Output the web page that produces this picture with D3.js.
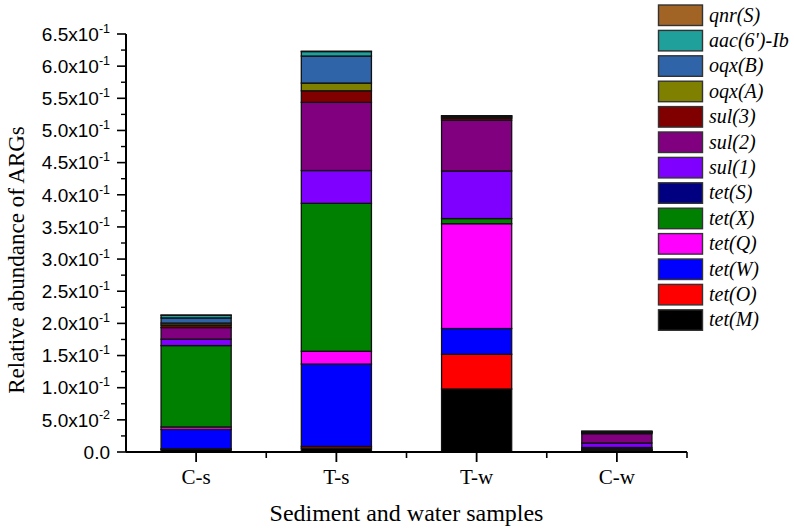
<!DOCTYPE html>
<html><head><meta charset="utf-8">
<script src="https://cdn.jsdelivr.net/npm/d3@7"></script>
<style>
html,body{margin:0;padding:0;background:#fff;}
svg{display:block;}
</style></head>
<body>
<svg id="chart" width="794" height="530"></svg>
<script>
const samples = ["C-s", "T-s", "T-w", "C-w"];
const genes = ["tet(M)", "tet(O)", "tet(W)", "tet(Q)", "tet(X)", "tet(S)", "sul(1)", "sul(2)", "sul(3)", "oqx(A)", "oqx(B)", "aac(6')-Ib", "qnr(S)"];
const colors = ["#000000", "#FF0000", "#0000FF", "#FF00FF", "#008000", "#000080", "#8000FF", "#800080", "#800000", "#808000", "#2F65A8", "#20A09A", "#A26424"];
// values per gene, in sample order C-s, T-s, T-w, C-w
const tetM = [0.004, 0.006, 0.098, 0.002];
const tetO = [0.001, 0.0027, 0.054, 0.0005];
const tetW = [0.030, 0.128, 0.040, 0.001];
const tetQ = [0.004, 0.020, 0.163, 0.0005];
const tetX = [0.1265, 0.230, 0.008, 0.001];
const tetS = [0.0, 0.0, 0.0, 0.002];
const sul1 = [0.010, 0.051, 0.074, 0.007];
const sul2 = [0.018, 0.106, 0.079, 0.0145];
const sul3 = [0.004, 0.018, 0.003, 0.0015];
const oqxA = [0.003, 0.012, 0.001, 0.0005];
const oqxB = [0.008, 0.042, 0.002, 0.001];
const aac = [0.004, 0.007, 0.0005, 0.0005];
const qnrS = [0.0005, 0.0005, 0.0005, 0.0005];
const seriesValues = [tetM, tetO, tetW, tetQ, tetX, tetS, sul1, sul2, sul3, oqxA, oqxB, aac, qnrS];

const yTicks = [0, 0.05, 0.1, 0.15, 0.2, 0.25, 0.3, 0.35, 0.4, 0.45, 0.5, 0.55, 0.6, 0.65];
const yTickMantissa = ["0.0", "5.0x10", "1.0x10", "1.5x10", "2.0x10", "2.5x10", "3.0x10", "3.5x10", "4.0x10", "4.5x10", "5.0x10", "5.5x10", "6.0x10", "6.5x10"];
const yTickExponent = ["", "-2", "-1", "-1", "-1", "-1", "-1", "-1", "-1", "-1", "-1", "-1", "-1", "-1"];
const yMinorTicks = [0.025, 0.075, 0.125, 0.175, 0.225, 0.275, 0.325, 0.375, 0.425, 0.475, 0.525, 0.575, 0.625];

const svg = d3.select("#chart");
const pLeft = 126, pRight = 687, pTop = 34, pBottom = 452;

const x = d3.scaleBand().domain(samples).range([pLeft, pRight]).paddingInner(0.5).paddingOuter(0.25);
const y = d3.scaleLinear().domain([0, 0.65]).range([pBottom, pTop]);

// stack
const table = samples.map((s, i) => {
  const o = {sample: s};
  genes.forEach((g, j) => o[g] = seriesValues[j][i]);
  return o;
});
const stack = d3.stack().keys(genes)(table);

const gBars = svg.append("g");
stack.forEach((layer, j) => {
  gBars.selectAll(null).data(layer).enter().append("rect")
    .attr("x", d => x(d.data.sample))
    .attr("width", x.bandwidth())
    .attr("y", d => y(d[1]))
    .attr("height", d => Math.max(0, y(d[0]) - y(d[1])))
    .attr("fill", colors[j])
    .attr("stroke", "#111")
    .attr("stroke-width", 1.3);
});

// y axis
const gy = svg.append("g");
gy.append("line").attr("x1", pLeft).attr("x2", pLeft).attr("y1", y(0.65)).attr("y2", pBottom)
  .attr("stroke", "#000").attr("stroke-width", 2);
gy.selectAll(".maj").data(yTicks).enter().append("line")
  .attr("x1", pLeft - 9).attr("x2", pLeft).attr("y1", d => y(d)).attr("y2", d => y(d))
  .attr("stroke", "#000").attr("stroke-width", 1.6);
gy.selectAll(".min").data(yMinorTicks).enter().append("line")
  .attr("x1", pLeft - 5).attr("x2", pLeft).attr("y1", d => y(d)).attr("y2", d => y(d))
  .attr("stroke", "#000").attr("stroke-width", 1.4);
const lbl = gy.selectAll(".lbl").data(yTicks).enter().append("text")
  .attr("x", 110).attr("y", d => y(d) + 6.8)
  .attr("text-anchor", "end")
  .attr("font-family", "'Liberation Sans', Arial, sans-serif")
  .attr("font-size", 19).attr("fill", "#000");
lbl.append("tspan").text((d, i) => yTickMantissa[i]);
lbl.append("tspan").attr("dy", -8).attr("font-size", 12.5).text((d, i) => yTickExponent[i]);

// x axis
const gx = svg.append("g");
gx.append("line").attr("x1", pLeft).attr("x2", pRight).attr("y1", pBottom).attr("y2", pBottom)
  .attr("stroke", "#000").attr("stroke-width", 2);
gx.selectAll(".xt").data(samples).enter().append("line")
  .attr("x1", d => x(d) + x.bandwidth() / 2).attr("x2", d => x(d) + x.bandwidth() / 2)
  .attr("y1", pBottom).attr("y2", pBottom + 10).attr("stroke", "#000").attr("stroke-width", 1.8);
const step = x.step();
gx.selectAll(".xm").data(samples).enter().append("line")
  .attr("x1", d => x(d) + x.bandwidth() / 2 + step / 2).attr("x2", d => x(d) + x.bandwidth() / 2 + step / 2)
  .attr("y1", pBottom).attr("y2", pBottom + 6).attr("stroke", "#000").attr("stroke-width", 1.6);
gx.selectAll(".xl").data(samples).enter().append("text")
  .attr("x", d => x(d) + x.bandwidth() / 2).attr("y", 484)
  .attr("text-anchor", "middle")
  .attr("font-family", "'Liberation Serif', 'Times New Roman', serif")
  .attr("font-size", 21).text(d => d);

svg.append("text").attr("x", (pLeft + pRight) / 2).attr("y", 521)
  .attr("text-anchor", "middle")
  .attr("font-family", "'Liberation Serif', 'Times New Roman', serif")
  .attr("font-size", 24).text("Sediment and water samples");

svg.append("text").attr("transform", `translate(24,${(117 + 403) / 2}) rotate(-90)`)
  .attr("text-anchor", "middle")
  .attr("font-family", "'Liberation Serif', 'Times New Roman', serif")
  .attr("font-size", 23).text("Relative abundance of ARGs");

// legend (top to bottom: reversed stack order)
const legendItems = genes.slice().reverse();
const lg = svg.append("g");
legendItems.forEach((g, i) => {
  const j = genes.indexOf(g);
  const yy = 5 + i * 25.4;
  lg.append("rect").attr("x", 658.5).attr("y", yy).attr("width", 44).attr("height", 20.5)
    .attr("fill", colors[j]).attr("stroke", "#333").attr("stroke-width", 1.4);
  lg.append("text").attr("x", 709).attr("y", yy + 16.5)
    .attr("font-family", "'Liberation Serif', 'Times New Roman', serif")
    .attr("font-style", "italic").attr("font-size", 20).text(g);
});
</script>
</body></html>
